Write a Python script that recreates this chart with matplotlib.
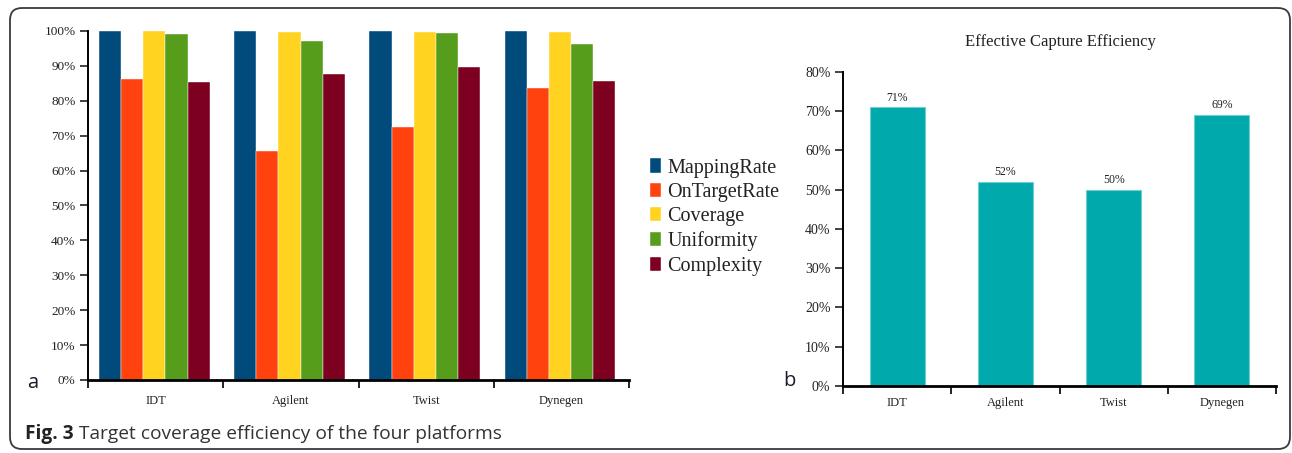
import matplotlib
matplotlib.use("Agg")
import matplotlib.pyplot as plt
import numpy as np
from matplotlib.patches import FancyBboxPatch
from matplotlib.transforms import IdentityTransform
from matplotlib.ticker import FixedLocator, NullFormatter

# ---- data ----
platforms = ["IDT", "Agilent", "Twist", "Dynegen"]
metrics = ["MappingRate", "OnTargetRate", "Coverage", "Uniformity", "Complexity"]
mapping_rate = [100.0, 100.0, 100.0, 100.0]
on_target_rate = [86.3, 65.5, 72.4, 83.6]
coverage = [100.0, 99.8, 99.8, 99.8]
uniformity = [99.2, 97.2, 99.5, 96.3]
complexity = [85.5, 87.6, 89.7, 85.8]
effective_capture = [71, 52, 50, 69]
pct_ticks_a = [0, 10, 20, 30, 40, 50, 60, 70, 80, 90, 100]
pct_ticks_b = [0, 10, 20, 30, 40, 50, 60, 70, 80]

metric_colors = ["#004a7c", "#ff420e", "#ffd320", "#579d1c", "#7e0021"]
teal = "#00a9ab"

serif = ["Liberation Serif", "DejaVu Serif"]
sans = ["Open Sans", "DejaVu Sans"]
plt.rcParams["font.family"] = serif
plt.rcParams["text.color"] = "#222222"
plt.rcParams["xtick.color"] = "#222222"
plt.rcParams["ytick.color"] = "#222222"

W, H = 1292, 453
fig = plt.figure(figsize=(W / 100, H / 100), dpi=100)
fig.patch.set_facecolor("white")


def px_axes(x0, x1, ytop, ybot):
    return fig.add_axes([x0 / W, (H - ybot) / H, (x1 - x0) / W, (ybot - ytop) / H])


def style_axes(ax, yticks, ymax, ysize, xpad):
    for s in ("top", "right"):
        ax.spines[s].set_visible(False)
    ax.spines["left"].set_linewidth(1.4)
    ax.spines["bottom"].set_linewidth(2.0)
    ax.set_xlim(0, len(platforms))
    ax.set_ylim(0, ymax)
    ax.set_yticks(yticks)
    ax.set_yticklabels([f"{t}%" for t in yticks], fontsize=ysize)
    ax.tick_params(axis="y", direction="out", length=6, width=1.2, pad=3)
    # group boundaries carry the tick marks, labels sit at group centres
    ax.xaxis.set_major_locator(FixedLocator(np.arange(len(platforms) + 1)))
    ax.xaxis.set_major_formatter(NullFormatter())
    ax.set_xticks(np.arange(len(platforms)) + 0.5, minor=True)
    ax.set_xticklabels(platforms, minor=True, fontsize=9)
    ax.tick_params(axis="x", which="major", direction="out", length=6, width=1.4)
    ax.tick_params(axis="x", which="minor", length=0, pad=xpad)


# ---- panel a: grouped bars ----
ax1 = px_axes(88, 629, 31, 380)
series = [mapping_rate, on_target_rate, coverage, uniformity, complexity]
bw = 0.164
centers = np.arange(len(platforms)) + 0.49
for k, (vals, name, col) in enumerate(zip(series, metrics, metric_colors)):
    ax1.bar(centers + (k - 2) * bw, vals, width=bw, color=col, label=name,
            edgecolor="#ffffff", linewidth=0.3, zorder=2)
style_axes(ax1, pct_ticks_a, 100, 9.5, 11)

leg = ax1.legend(loc="upper left", bbox_to_anchor=(650 / W, (H - 158.5) / H),
                 bbox_transform=fig.transFigure, frameon=False,
                 prop={"size": 14.5},
                 handlelength=0.55, handleheight=0.7, handletextpad=0.3,
                 labelspacing=0.26, borderaxespad=0, borderpad=0)

# ---- panel b: effective capture efficiency ----
ax2 = px_axes(843, 1276, 71.7, 386)
xb = np.arange(len(platforms)) + 0.5
eff = np.array(effective_capture)
ax2.bar(xb, eff, width=0.51, color=teal, edgecolor="#6fd0d1", linewidth=0.8, zorder=2)
style_axes(ax2, pct_ticks_b, 80, 10, 8)
for x, v in zip(xb, eff):
    ax2.annotate(f"{v}%", (x, v), xytext=(0, 2.5), textcoords="offset points",
                 ha="center", va="bottom", fontsize=8.5)
fig.text(1060 / W, (H - 42) / H, "Effective Capture Efficiency",
         fontsize=12, ha="center", va="center")

# ---- panel letters and caption ----
fig.text(33 / W, (H - 383) / H, "a", family=sans, fontsize=14.5, ha="center",
         va="center", color="#1b1b2b")
fig.text(789 / W, (H - 381) / H, "b", family=sans, fontsize=14.5, ha="center",
         va="center", color="#1b1b2b")
lead = fig.text(25 / W, (H - 434) / H, "Fig. 3", family=sans, fontsize=13.8,
                fontweight="bold", ha="left", va="center", color="#222222")
fig.canvas.draw()
lead_end = lead.get_window_extent(renderer=fig.canvas.get_renderer()).x1
fig.text((lead_end + 5) / W, (H - 434) / H,
         "Target coverage efficiency of the four platforms",
         family=sans, fontsize=13.8, ha="left", va="center", color="#333333")

# rounded frame around the whole figure
frame = FancyBboxPatch((10, 4), 1280, 441, boxstyle="round,pad=0,rounding_size=12",
                       transform=IdentityTransform(), facecolor="none",
                       edgecolor="#3a3a3a", linewidth=1.3)
fig.patches.append(frame)

fig.savefig("out.png", dpi=100)
